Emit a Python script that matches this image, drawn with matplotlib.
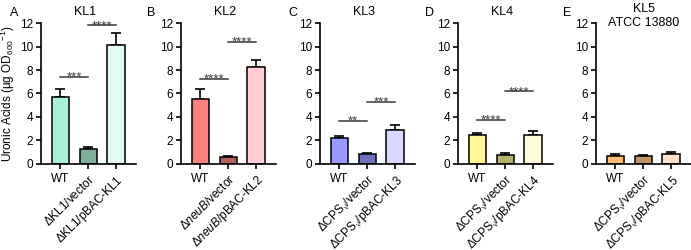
import numpy as np
import matplotlib
matplotlib.use("Agg")
import matplotlib.pyplot as plt

plt.rcParams['font.family'] = ['Liberation Sans', 'DejaVu Sans']
plt.rcParams['mathtext.fontset'] = 'custom'
plt.rcParams['mathtext.rm'] = 'Liberation Sans'
plt.rcParams['mathtext.it'] = 'Liberation Sans:italic'
plt.rcParams['mathtext.sf'] = 'Liberation Sans'

# data (mean, upper error)
panels = ['A', 'B', 'C', 'D', 'E']
titles = ['KL1', 'KL2', 'KL3', 'KL4', 'KL5\nATCC 13880']

labels_A = ['WT', r'$\Delta$KL1/vector', r'$\Delta$KL1/pBAC-KL1']
labels_B = ['WT', r'$\Delta\mathit{neuB}$/vector', r'$\Delta\mathit{neuB}$/pBAC-KL2']
labels_C = ['WT', r'$\Delta$CPS$_{√}$/vector', r'$\Delta$CPS$_{√}$/pBAC-KL3']
labels_D = ['WT', r'$\Delta$CPS$_{√}$/vector', r'$\Delta$CPS$_{√}$/pBAC-KL4']
labels_E = ['WT', r'$\Delta$CPS$_{√}$/vector', r'$\Delta$CPS$_{√}$/pBAC-KL5']

vals_A = [5.7, 1.25, 10.1]
err_A = [0.68, 0.2, 1.05]
vals_B = [5.5, 0.52, 8.25]
err_B = [0.85, 0.08, 0.65]
vals_C = [2.2, 0.82, 2.85]
err_C = [0.15, 0.08, 0.48]
vals_D = [2.42, 0.72, 2.46]
err_D = [0.17, 0.18, 0.3]
vals_E = [0.66, 0.66, 0.84]
err_E = [0.18, 0.07, 0.18]

# significance: (bar i, bar j, height, stars)
sig_A = [(0, 1, 7.4, '***'), (1, 2, 11.85, '****')]
sig_B = [(0, 1, 7.25, '****'), (1, 2, 10.4, '****')]
sig_C = [(0, 1, 3.65, '**'), (1, 2, 5.28, '***')]
sig_D = [(0, 1, 3.72, '****'), (1, 2, 6.2, '****')]
sig_E = []

colors_A = ['#a8f0d8', '#7fae9a', '#e2fbf2']
colors_B = ['#ff7e7e', '#b85c5c', '#ffcdd2']
colors_C = ['#9898ff', '#7070c0', '#d9d9ff']
colors_D = ['#fff996', '#b5b06a', '#fffcdc']
colors_E = ['#ffbd7a', '#c49262', '#ffe2c8']

all_labels = [labels_A, labels_B, labels_C, labels_D, labels_E]
all_vals = [vals_A, vals_B, vals_C, vals_D, vals_E]
all_err = [err_A, err_B, err_C, err_D, err_E]
all_sig = [sig_A, sig_B, sig_C, sig_D, sig_E]
all_colors = [colors_A, colors_B, colors_C, colors_D, colors_E]

W, H = 691, 250
fig = plt.figure(figsize=(W / 100, H / 100), dpi=100)

lefts = [41, 181, 320, 458, 596]
ax_w = 95
y_bot = 163.5
y_top = 23.3
ax_h = y_bot - y_top

for k in range(5):
    ax = fig.add_axes([lefts[k] / W, 1 - y_bot / H, ax_w / W, ax_h / H])
    x = np.arange(3)
    vals = all_vals[k]
    errs = all_err[k]
    ax.errorbar(x, vals, yerr=[np.zeros(3), errs], fmt='none', ecolor='black',
                elinewidth=1.2, capsize=3.8, capthick=1.2, zorder=1)
    ax.bar(x, vals, width=0.62, color=all_colors[k], edgecolor='black',
           linewidth=1.1, zorder=2)

    for i, j, h, s in all_sig[k]:
        ax.plot([i, j], [h, h], color='#383838', lw=1.1, zorder=3)
        ax.annotate(s, xy=((i + j) / 2, h), xytext=(0, -2.8), textcoords='offset points',
                    ha='center', va='baseline', fontsize=9.5, color='#383838')

    ax.set_xlim(-0.7, 2.72)
    ax.set_ylim(0, 12)
    ax.set_yticks(np.arange(0, 13, 2))
    ax.set_xticks(x)
    ax.set_xticklabels(all_labels[k])
    for n, t in enumerate(ax.get_xticklabels()):
        if n > 0:
            t.set_rotation(45)
            t.set_ha('right')
            t.set_va('top')
            t.set_rotation_mode('anchor')

    for sp in ['top', 'right']:
        ax.spines[sp].set_visible(False)
    for sp in ['left', 'bottom']:
        ax.spines[sp].set_linewidth(1.2)
    ax.tick_params(axis='both', labelsize=8.5, width=1.2, length=3.5, pad=2)
    ax.tick_params(axis='x', pad=3)

    if k < 4:
        ax.text(0.46, 1 + (y_top - 15.0) / ax_h, titles[k], transform=ax.transAxes,
                ha='center', va='baseline', fontsize=9)
    else:
        ax.text(0.5, 1 + (y_top - 26.5) / ax_h, titles[k], transform=ax.transAxes,
                ha='center', va='baseline', fontsize=9, linespacing=1.3)

fig.text(8 / W, 1 - 94 / H, 'Uronic Acids (µg OD$_{600}$$^{-1}$)', rotation=90,
         ha='center', va='center', fontsize=8.5)

letter_x = [10, 147, 288, 425, 563]
for k in range(5):
    fig.text(letter_x[k] / W, 1 - 15.5 / H, panels[k], fontsize=9, ha='left', va='baseline')

fig.savefig('out.png', dpi=100)
